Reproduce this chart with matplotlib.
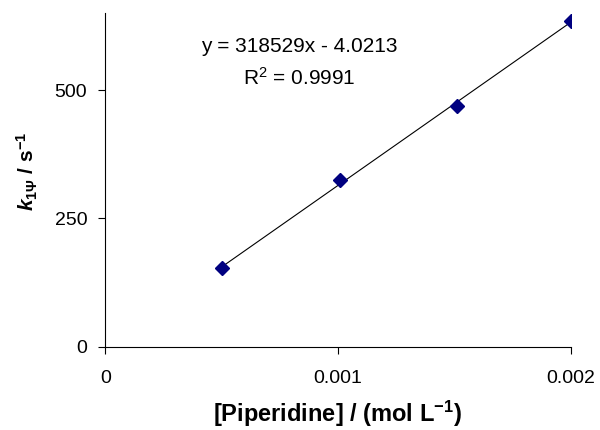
import matplotlib
matplotlib.use("Agg")
import matplotlib.pyplot as plt
import numpy as np

plt.rcParams['font.family'] = ['Liberation Sans', 'DejaVu Sans']
plt.rcParams['mathtext.fontset'] = 'custom'
plt.rcParams['mathtext.rm'] = 'Liberation Sans:bold'
plt.rcParams['mathtext.it'] = 'Liberation Sans:italic:bold'
plt.rcParams['mathtext.bf'] = 'Liberation Sans:bold'

# Data
conc = [0.0005, 0.00101, 0.00151, 0.002]
k_obs = [153, 325, 469, 635]
x_ticks = [0, 0.001, 0.002]
x_ticklabels = ["0", "0.001", "0.002"]
y_ticks = [0, 250, 500]
eq_line1 = "y = 318529x - 4.0213"
eq_line2 = "R$^{\\mathregular{2}}$ = 0.9991"

fig = plt.figure(figsize=(6, 4.3), dpi=100)
ax = fig.add_axes([0.1755, 0.1937, 0.951 - 0.1755, 0.969 - 0.1937])

slope, intercept = np.polyfit(conc, k_obs, 1)
xs = np.array([min(conc), max(conc)])
ax.plot(xs, slope * xs + intercept, color='black', lw=0.8, zorder=2)
ax.plot(conc, k_obs, linestyle='none', marker='D', markersize=7.5,
        color='#000080', markeredgecolor='#000080', zorder=3)

ax.set_xlim(0, 0.002)
ax.set_ylim(0, 650)
ax.set_xticks(x_ticks)
ax.set_xticklabels(x_ticklabels)
ax.set_yticks(y_ticks)
ax.tick_params(axis='both', labelsize=14, length=5, width=0.8, direction='out')
ax.tick_params(axis='x', pad=12)
ax.tick_params(axis='y', pad=8)
for s in ['top', 'right']:
    ax.spines[s].set_visible(False)
for s in ['left', 'bottom']:
    ax.spines[s].set_linewidth(0.8)

ax.text(0.416, 0.885, eq_line1, transform=ax.transAxes, ha='center', va='baseline',
        fontsize=15)
ax.text(0.416, 0.785, eq_line2, transform=ax.transAxes, ha='center', va='baseline',
        fontsize=15)

ax.set_xlabel("[Piperidine] / (mol L$^{\\mathregular{-1}}$)", fontsize=17,
              fontweight='bold', labelpad=8)
ax.set_ylabel("$k_{1\\Psi}$ / s$^{\\mathregular{-1}}$", fontsize=15,
              fontweight='bold')
ax.yaxis.set_label_coords(-0.14, 0.527)

fig.savefig("out.png", dpi=100)
